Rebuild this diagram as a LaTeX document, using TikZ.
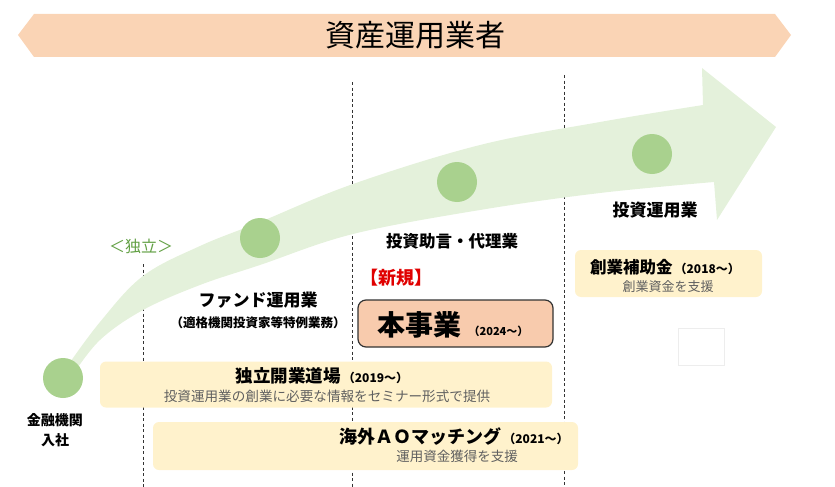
\documentclass[tikz,border=0pt]{standalone}
\usepackage{fontspec}
\setmainfont{Noto Sans CJK JP}
\definecolor{bannerfill}{HTML}{FAD4B5}
\definecolor{bandfill}{HTML}{E4F1DB}
\definecolor{dotfill}{HTML}{A9D18E}
\definecolor{yelfill}{HTML}{FFF2CC}
\definecolor{mainfill}{HTML}{F8CBAD}
\definecolor{subgray}{HTML}{606060}
\definecolor{indgreen}{HTML}{62A044}
\definecolor{newred}{HTML}{E00000}
\newcommand{\fsz}[1]{\fontsize{#1}{#1}\selectfont}
\tikzset{
  dot/.style={circle, fill=dotfill, minimum size=40pt, inner sep=0pt},
  divline/.style={dashed, dash pattern=on 3pt off 2.5pt, line width=1pt, black!80},
  yelbox/.style={fill=yelfill, rounded corners=6pt, inner sep=0pt},
  lbl/.style={inner sep=0pt, font=\bfseries},
  sublbl/.style={inner sep=0pt, text=subgray},
}
\begin{document}
\begin{tikzpicture}[x=1pt,y=-1pt]
\useasboundingbox (0,0) rectangle (835,487);
% banner
\fill[bannerfill] (18,35) -- (34,14) -- (775,14) -- (791,35) -- (775,57) -- (34,57) -- cycle;
\node[inner sep=0pt] (title) at (415,35) {\fsz{30}資産運用業者};
% dashed dividers
\coordinate (d1t) at (143,264); \coordinate (d1b) at (143,487);
\coordinate (d2t) at (352,82);  \coordinate (d2b) at (352,487);
\coordinate (d3t) at (564,75);  \coordinate (d3b) at (564,487);
\draw[divline] (d1t) -- (d1b);
\draw[divline] (d2t) -- (d2b);
\draw[divline] (d3t) -- (d3b);
% curved arrow band
\fill[bandfill] plot[smooth, tension=0.6] coordinates {(66,368) (100,322) (143,276) (200,246) (260,222) (353,184) (480,145) (600,122) (703,105)}
  -- (702,68) -- (776,127) -- (717,220) -- (714,182)
  -- plot[smooth, tension=0.6] coordinates {(714,182) (600,193) (480,210) (353,234) (260,265) (200,285) (143,310) (100,340) (72,376)} -- cycle;
% dots
\node[dot] (c1) at (63,378) {};
\node[dot] (c2) at (260,238) {};
\node[dot] (c3) at (457,182) {};
\node[dot] (c4) at (652,154) {};
% labels
\node[inner sep=0pt, text=indgreen] (ind) at (141,246) {\fsz{16}＜独立＞};
\node[lbl] (fund) at (258,300) {\fsz{17}ファンド運用業};
\node[lbl] (fundsub) at (258,323) {\fsz{12.5}（適格機関投資家等特例業務）};
\node[lbl] (adv) at (452,241) {\fsz{16.5}投資助言・代理業};
\node[lbl, text=newred, anchor=west] (new) at (360,278) {\fsz{18}【新規】};
\node[lbl] (inv) at (655,210) {\fsz{17}投資運用業};
\node[lbl, align=center] (bank) at (55,430) {\fsz{14}金融機関\\[6pt]\fsz{14}入社};
% main box
\node[fill=mainfill, draw=black!80, line width=1.2pt, rounded corners=8pt, minimum width=195pt, minimum height=47pt, inner sep=0pt] (main) at (455.5,323.5) {};
\node[lbl] (maintxt) at (453,325) {\fsz{28}本事業\hspace{7pt}\fsz{11}（2024～）};
% subsidy box
\node[yelbox, minimum width=187pt, minimum height=47pt] (subsidy) at (668.5,273.5) {};
\node[lbl] (subsidyt) at (665,267) {\fsz{16.5}創業補助金\hspace{2pt}\fsz{12}（2018～）};
\node[sublbl] (subsidys) at (668,287) {\fsz{13}創業資金を支援};
% faint blank box
\node[draw=black!7, line width=0.8pt, minimum width=46pt, minimum height=37pt, inner sep=0pt] (blank) at (701.5,346.5) {};
% dojo box
\node[yelbox, minimum width=452pt, minimum height=46pt] (dojo) at (326,384.5) {};
\node[lbl] (dojot) at (322,376) {\fsz{17.5}独立開業道場\hspace{2pt}\fsz{12}（2019～）};
\node[sublbl] (dojos) at (327,396) {\fsz{13.6}投資運用業の創業に必要な情報をセミナー形式で提供};
% AO box
\node[yelbox, minimum width=425pt, minimum height=48pt] (ao) at (365.5,446) {};
\node[lbl] (aot) at (454,437) {\fsz{18}海外ＡＯマッチング\hspace{2pt}\fsz{12}（2021～）};
\node[sublbl] (aos) at (457,456) {\fsz{13.5}運用資金獲得を支援};
\end{tikzpicture}
\end{document}
